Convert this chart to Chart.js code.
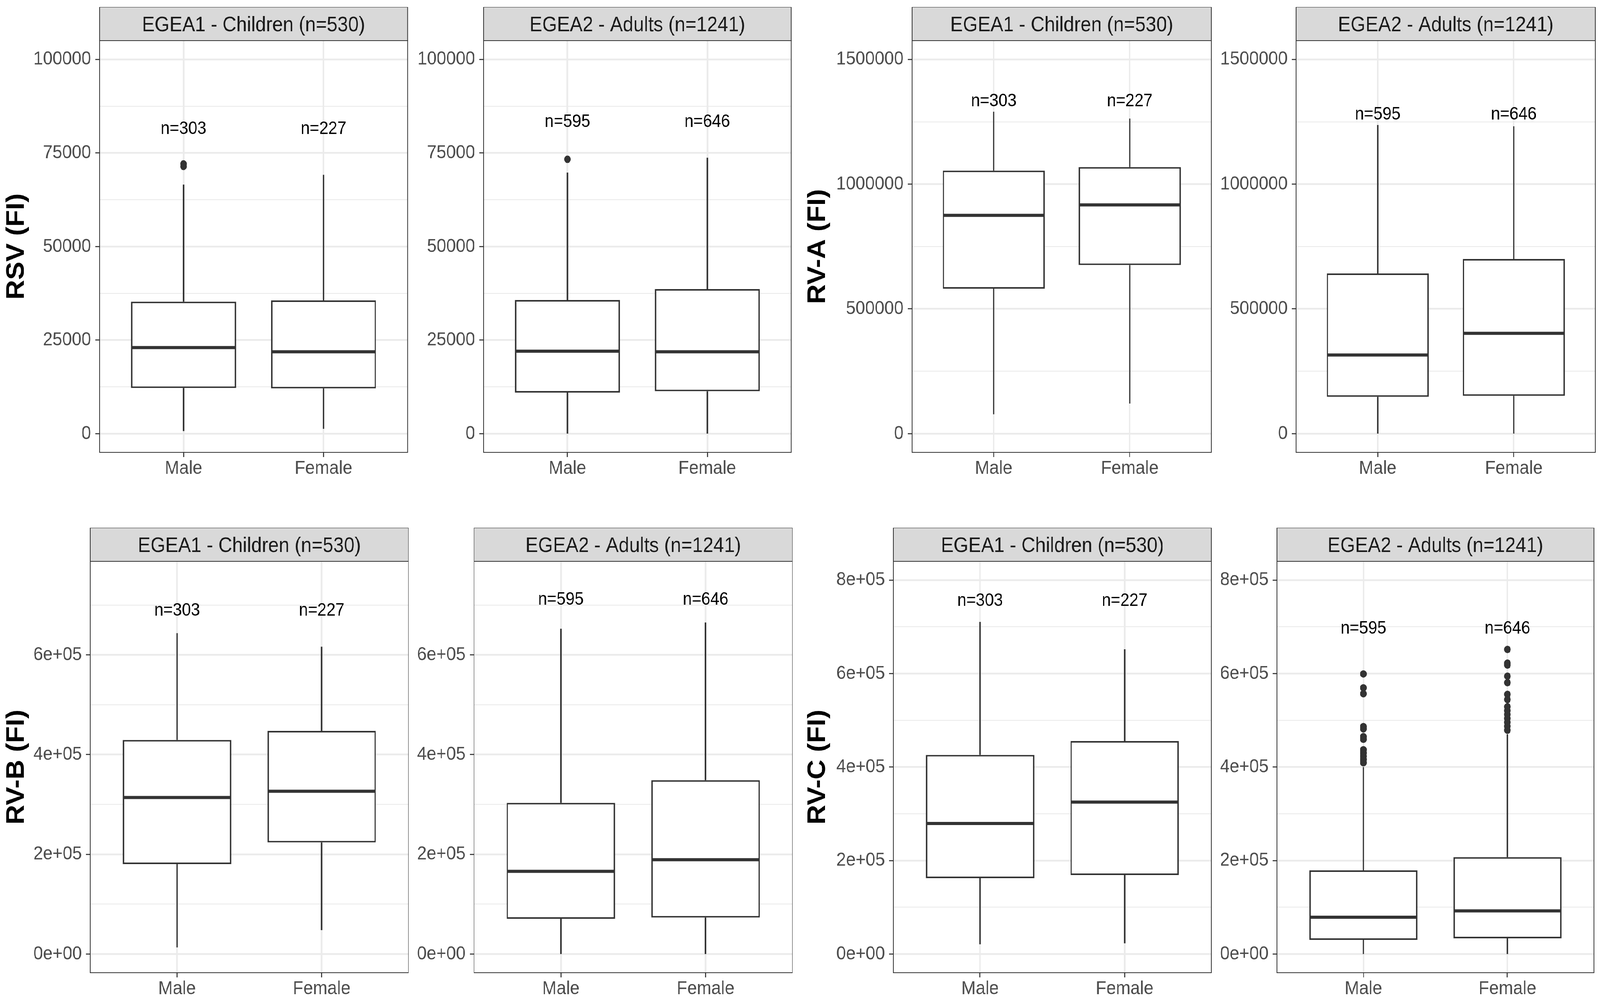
<!DOCTYPE html>
<html lang="en">
  <head>
    <meta charset="UTF-8" />
    <script src="https://cdn.jsdelivr.net/npm/chart.js@4.4.0/dist/chart.umd.min.js"></script>
    <title>Antibody levels by sex</title>
    <style>
      html,
      body {
        margin: 0;
        padding: 0;
        background: #ffffff;
        overflow: hidden;
      }

      .page {
        position: relative;
        width: 4533px;
        height: 2565px;
        background: #ffffff;
        transform-origin: 0 0;
      }

      .page canvas {
        position: absolute;
      }
    </style>
  </head>
  <body>
    <div class="page" id="page"></div>
    <script>
      const FONT = "'Liberation Sans', Arial, Helvetica, sans-serif"

      const categories = ['Male', 'Female']
      const facetNames = ['EGEA1 - Children (n=530)', 'EGEA2 - Adults (n=1241)']
      const childrenN = [303, 227]
      const adultsN = [595, 646]

      const rsvTicks = [0, 25000, 50000, 75000, 100000]
      const rsvTickLabels = ['0', '25000', '50000', '75000', '100000']
      const rvaTicks = [0, 500000, 1000000, 1500000]
      const rvaTickLabels = ['0', '500000', '1000000', '1500000']
      const rvbTicks = [0, 200000, 400000, 600000]
      const rvbTickLabels = ['0e+00', '2e+05', '4e+05', '6e+05']
      const rvcTicks = [0, 200000, 400000, 600000, 800000]
      const rvcTickLabels = ['0e+00', '2e+05', '4e+05', '6e+05', '8e+05']

      // per sex: [lower whisker, Q1, median, Q3, upper whisker]
      const rsvChildren = [[690, 12190, 22990, 35260, 66550], [1300, 12100, 21870, 35610, 69140]]
      const rsvAdults = [[0, 10980, 22040, 35700, 69750], [0, 11320, 21870, 38630, 73720]]
      const rvaChildren = [[77800, 581000, 875000, 1054000, 1290000], [120600, 675500, 916600, 1068300, 1262800]]
      const rvaAdults = [[0, 147800, 315000, 641800, 1236900], [0, 151700, 401900, 700100, 1231700]]
      const rvbChildren = [[13200, 180250, 313900, 429200, 643500], [47900, 223700, 326500, 447500, 616400]]
      const rvbAdults = [[0, 70600, 165750, 303150, 652300], [0, 73100, 189100, 348500, 664900]]
      const rvcChildren = [[20900, 162150, 279200, 425900, 710500], [22900, 168900, 325000, 455500, 651950]]
      const rvcAdults = [[0, 30300, 78700, 179000, 400000], [0, 33600, 92200, 207200, 470000]]

      const rsvChildrenOutliers = [[72080, 71390], []]
      const rsvAdultsOutliers = [[73290], []]
      const rvcAdultsOutliers = [
        [599200, 569400, 556800, 486600, 481600, 464900, 459300, 437000, 430100, 423100, 416100, 409200],
        [651500, 622300, 618100, 594400, 580500, 555400, 544300, 529000, 520600, 512300, 503900, 495500, 487200, 478800],
      ]

      const STRIP_H = 86
      const AXIS_W = 250
      const XAXIS_H = 75

      const panels = [
        { stats: rsvChildren, out: rsvChildrenOutliers, n: childrenN, facet: 0, ticks: rsvTicks, tickLabels: rsvTickLabels, yMin: -5000, yMax: 105000, labelAt: 81850, title: 'RSV (FI)', titleX: 48, left: 282, right: 1158, top: 18, bottom: 1158 },
        { stats: rsvAdults, out: rsvAdultsOutliers, n: adultsN, facet: 1, ticks: rsvTicks, tickLabels: rsvTickLabels, yMin: -5000, yMax: 105000, labelAt: 83700, left: 1370, right: 2245, top: 18, bottom: 1158 },
        { stats: rvaChildren, out: [[], []], n: childrenN, facet: 0, ticks: rvaTicks, tickLabels: rvaTickLabels, yMin: -75000, yMax: 1575000, labelAt: 1338000, title: 'RV-A (FI)', titleX: 2318, left: 2584, right: 3432, top: 18, bottom: 1158 },
        { stats: rvaAdults, out: [[], []], n: adultsN, facet: 1, ticks: rvaTicks, tickLabels: rvaTickLabels, yMin: -75000, yMax: 1575000, labelAt: 1286000, left: 3672, right: 4520, top: 18, bottom: 1158 },
        { stats: rvbChildren, out: [[], []], n: childrenN, facet: 0, ticks: rvbTicks, tickLabels: rvbTickLabels, yMin: -37500, yMax: 787500, labelAt: 692000, title: 'RV-B (FI)', titleX: 48, left: 256, right: 1157, top: 1351, bottom: 2490 },
        { stats: rvbAdults, out: [[], []], n: adultsN, facet: 1, ticks: rvbTicks, tickLabels: rvbTickLabels, yMin: -37500, yMax: 787500, labelAt: 714000, left: 1343, right: 2245, top: 1351, bottom: 2490 },
        { stats: rvcChildren, out: [[], []], n: childrenN, facet: 0, ticks: rvcTicks, tickLabels: rvcTickLabels, yMin: -40000, yMax: 840000, labelAt: 758900, title: 'RV-C (FI)', titleX: 2318, left: 2531, right: 3432, top: 1351, bottom: 2490 },
        { stats: rvcAdults, out: rvcAdultsOutliers, n: adultsN, facet: 1, ticks: rvcTicks, tickLabels: rvcTickLabels, yMin: -40000, yMax: 840000, labelAt: 699700, left: 3618, right: 4519, top: 1351, bottom: 2490 },
      ]

      // whiskers, medians, n= labels, strip and panel border
      const boxExtras = {
        id: 'boxExtras',
        afterDatasetsDraw(chart, args, opts) {
          const { ctx, scales } = chart
          const x = scales.x
          const y = scales.y
          const meta = chart.getDatasetMeta(0)
          ctx.save()
          ctx.strokeStyle = '#333333'
          ctx.lineCap = 'butt'
          opts.stats.forEach((s, i) => {
            const bar = meta.data[i]
            const half = bar.width / 2
            ctx.lineWidth = 4
            ctx.beginPath()
            ctx.moveTo(bar.x, y.getPixelForValue(s[3]))
            ctx.lineTo(bar.x, y.getPixelForValue(s[4]))
            ctx.moveTo(bar.x, y.getPixelForValue(s[1]))
            ctx.lineTo(bar.x, y.getPixelForValue(s[0]))
            ctx.stroke()
            ctx.lineWidth = 8
            ctx.beginPath()
            ctx.moveTo(bar.x - half + 2, y.getPixelForValue(s[2]))
            ctx.lineTo(bar.x + half - 2, y.getPixelForValue(s[2]))
            ctx.stroke()
          })
          ctx.fillStyle = '#000000'
          ctx.font = '46px ' + FONT
          ctx.textAlign = 'center'
          ctx.textBaseline = 'alphabetic'
          opts.counts.forEach((c, i) => {
            ctx.fillText('n=' + c, x.getPixelForValue(i + 1), y.getPixelForValue(opts.labelAt) + 17)
          })
          ctx.restore()
        },
        afterDraw(chart, args, opts) {
          const { ctx, chartArea } = chart
          const w = chartArea.right - chartArea.left
          ctx.save()
          ctx.fillStyle = '#d9d9d9'
          ctx.fillRect(chartArea.left, chartArea.top - STRIP_H, w, STRIP_H)
          ctx.strokeStyle = '#333333'
          ctx.lineWidth = 2
          ctx.strokeRect(chartArea.left, chartArea.top - STRIP_H, w, STRIP_H)
          ctx.strokeRect(chartArea.left, chartArea.top, w, chartArea.bottom - chartArea.top)
          ctx.fillStyle = '#1a1a1a'
          ctx.font = '54px ' + FONT
          ctx.textAlign = 'center'
          ctx.textBaseline = 'alphabetic'
          ctx.fillText(opts.strip, chartArea.left + w / 2, chartArea.top - STRIP_H / 2 + 19)
          ctx.restore()
        },
      }

      const page = document.getElementById('page')
      // stretch the 4533 x 2565 layout over the viewport the browser actually gives
      const sx = window.innerWidth / 4533 || 1
      const sy = window.innerHeight / 2565 || 1
      page.style.transform = 'scale(' + sx + ', ' + sy + ')'

      panels.forEach((p) => {
        const canvasLeft = p.title ? p.titleX - 44 : p.left - AXIS_W
        const axisW = p.left - canvasLeft
        const width = p.right - canvasLeft + 6
        const height = p.bottom - p.top + XAXIS_H

        const canvas = document.createElement('canvas')
        canvas.width = width
        canvas.height = height
        canvas.style.left = canvasLeft + 'px'
        canvas.style.top = p.top + 'px'
        canvas.style.width = width + 'px'
        canvas.style.height = height + 'px'
        page.appendChild(canvas)

        const step = (p.ticks[1] - p.ticks[0]) / 2
        const allTicks = []
        for (let v = p.ticks[0]; v <= p.yMax; v += step) allTicks.push(v)
        const isMajor = (v) => p.ticks.indexOf(v) >= 0

        const outlierPoints = []
        p.out.forEach((vals, i) => vals.forEach((v) => outlierPoints.push({ x: i + 1, y: v })))

        new Chart(canvas.getContext('2d'), {
          type: 'bar',
          data: {
            datasets: [
              {
                data: p.stats.map((s, i) => ({ x: i + 1, y: [s[1], s[3]] })),
                backgroundColor: '#ffffff',
                borderColor: '#333333',
                borderWidth: 4,
                borderSkipped: false,
                barPercentage: 0.75,
                categoryPercentage: 1,
              },
              {
                type: 'scatter',
                data: outlierPoints,
                pointRadius: 9.5,
                pointBackgroundColor: '#333333',
                pointBorderWidth: 0,
              },
            ],
          },
          options: {
            responsive: false,
            devicePixelRatio: 1,
            animation: false,
            events: [],
            layout: {
              padding: { top: STRIP_H, right: 6, left: 0, bottom: 0 },
            },
            plugins: {
              legend: { display: false },
              tooltip: { enabled: false },
              boxExtras: {
                stats: p.stats,
                counts: p.n,
                labelAt: p.labelAt,
                strip: facetNames[p.facet],
              },
            },
            scales: {
              x: {
                type: 'linear',
                min: 0.4,
                max: 2.6,
                offset: false,
                afterBuildTicks: (scale) => {
                  scale.ticks = categories.map((c, i) => ({ value: i + 1 }))
                },
                afterFit: (scale) => {
                  scale.height = XAXIS_H
                },
                ticks: {
                  autoSkip: false,
                  maxRotation: 0,
                  padding: 0,
                  color: '#4d4d4d',
                  font: { family: FONT, size: 49 },
                  callback: (v) => categories[v - 1],
                },
                grid: {
                  offset: false,
                  color: '#ebebeb',
                  lineWidth: 4.5,
                  tickColor: '#333333',
                  tickLength: 12,
                  tickWidth: 2.7,
                },
                border: { display: false },
              },
              y: {
                type: 'linear',
                min: p.yMin,
                max: p.yMax,
                afterBuildTicks: (scale) => {
                  scale.ticks = allTicks.map((v) => ({ value: v }))
                },
                afterFit: (scale) => {
                  scale.width = axisW
                },
                ticks: {
                  autoSkip: false,
                  padding: 12,
                  color: '#4d4d4d',
                  font: { family: FONT, size: 49 },
                  callback: (v) => {
                    const i = p.ticks.indexOf(v)
                    return i >= 0 ? p.tickLabels[i] : ''
                  },
                },
                grid: {
                  color: '#ebebeb',
                  lineWidth: (ctx) => (ctx.tick && isMajor(ctx.tick.value) ? 4.5 : 2.2),
                  tickColor: (ctx) => (ctx.tick && isMajor(ctx.tick.value) ? '#333333' : 'rgba(0,0,0,0)'),
                  tickLength: 12,
                  tickWidth: 2.7,
                },
                border: { display: false },
                title: {
                  display: !!p.title,
                  text: p.title || '',
                  color: '#000000',
                  font: { family: FONT, size: 70, weight: 'bold' },
                  padding: { top: 2, bottom: 0 },
                },
              },
            },
          },
          plugins: [boxExtras],
        })
      })
    </script>
  </body>
</html>
